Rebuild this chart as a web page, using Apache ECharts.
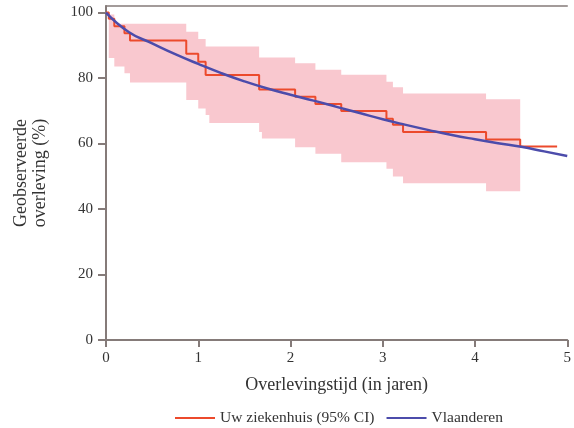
<!DOCTYPE html>
<html>
<head>
<meta charset="utf-8">
<script src="https://cdn.jsdelivr.net/npm/echarts@6/dist/echarts.min.js"></script>
<style>
  html, body { margin: 0; padding: 0; background: #fff; }
  #chart { width: 574px; height: 428px; }
</style>
</head>
<body>
<div id="chart"></div>
<script>
// Kaplan-Meier curve of the hospital (step, value holds until next time)
var kmTimes = [0, 0.03, 0.09, 0.20, 0.26, 0.87, 1.00, 1.08, 1.66, 2.05, 2.27, 2.55, 3.04, 3.11, 3.22, 4.12, 4.49, 4.89];
var kmSurv  = [100, 98.1, 95.8, 93.7, 91.5, 87.4, 85.0, 80.9, 76.5, 74.3, 72.1, 69.9, 67.6, 65.7, 63.5, 61.2, 59.1, 59.1];

// 95% CI band (last time = end of band)
var ciTimes = [0.03, 0.09, 0.20, 0.26, 0.87, 1.00, 1.08, 1.12, 1.66, 1.69, 2.05, 2.27, 2.55, 3.04, 3.11, 3.22, 4.12, 4.49];
var ciLower = [86.1, 83.5, 81.5, 78.6, 73.3, 70.7, 68.7, 66.3, 63.5, 61.5, 58.9, 56.9, 54.3, 52.3, 49.9, 47.9, 45.4];
var ciUpper = [99.4, 96.6, 96.6, 96.6, 94.1, 91.9, 89.6, 89.6, 86.3, 86.3, 84.5, 82.5, 81.0, 78.9, 77.2, 75.3, 73.5];

// Vlaanderen reference curve
var vlTimes = [0, 0.25, 0.5, 0.75, 1, 1.25, 1.5, 1.75, 2, 2.25, 2.5, 2.75, 3, 3.25, 3.5, 3.75, 4, 4.25, 4.5, 4.75, 5];
var vlSurv  = [100, 94.0, 90.6, 87.3, 84.3, 81.5, 79.0, 76.8, 74.9, 73.1, 71.2, 69.3, 67.4, 65.7, 64.1, 62.6, 61.3, 60.1, 59.0, 57.6, 56.2];

var yTicks = [0, 20, 40, 60, 80, 100];
var xTicks = [0, 1, 2, 3, 4, 5];

var serif = 'Liberation Serif';
var axisCol = '#857b79';
var red = '#ec4a2c';
var blue = '#4c4cab';
var pink = '#f9c8cf';

function pairs(xs, ys) {
    return xs.map(function (x, i) { return [x, ys[i]]; });
}

// one row per CI interval: [start, end, lower, upper]
var ciRows = ciLower.map(function (lo, i) {
    return [ciTimes[i], ciTimes[i + 1], lo, ciUpper[i]];
});

var chart = echarts.init(document.getElementById('chart'));

var option = {
    animation: false,
    grid: { left: 106, right: 2, top: 6, bottom: 88 },
    legend: {
        left: 170,
        top: 405,
        icon: 'rect',
        itemWidth: 40,
        itemHeight: 2,
        itemGap: 12,
        textStyle: { fontFamily: serif, fontSize: 15.5, color: '#333' },
        data: ['Uw ziekenhuis (95% CI)', 'Vlaanderen']
    },
    xAxis: [{
        type: 'value',
        min: 0, max: 5, interval: 1,
        name: 'Overlevingstijd (in jaren)',
        nameLocation: 'middle',
        nameGap: 36,
        nameTextStyle: { fontFamily: serif, fontSize: 18, color: '#333' },
        axisLine: { lineStyle: { color: axisCol, width: 2 } },
        axisTick: { length: 7, lineStyle: { color: axisCol, width: 2 }, customValues: xTicks },
        axisLabel: { fontFamily: serif, fontSize: 15, color: '#333', margin: 11, customValues: xTicks },
        splitLine: { show: false }
    }, {
        type: 'value',
        position: 'top',
        min: 0, max: 5,
        axisLine: { show: true, lineStyle: { color: axisCol, width: 1.5 } },
        axisTick: { show: false },
        axisLabel: { show: false },
        splitLine: { show: false }
    }],
    yAxis: {
        type: 'value',
        min: 0, max: 102,
        name: 'Geobserveerde\noverleving (%)',
        nameLocation: 'middle',
        nameRotate: 90,
        nameGap: 56,
        nameTextStyle: { fontFamily: serif, fontSize: 18, color: '#333', lineHeight: 19 },
        axisLine: { show: true, lineStyle: { color: axisCol, width: 2 } },
        axisTick: { show: true, length: 8, lineStyle: { color: axisCol, width: 2 }, customValues: yTicks },
        axisLabel: { fontFamily: serif, fontSize: 15, color: '#333', margin: 13, customValues: yTicks },
        splitLine: { show: false }
    },
    series: [
        {
            name: 'ci',
            type: 'custom',
            silent: true,
            z: 1,
            data: ciRows,
            renderItem: function (params, api) {
                if (params.dataIndex !== 0) return;
                var top = [], bottom = [];
                ciRows.forEach(function (r) {
                    top.push(api.coord([r[0], r[3]]), api.coord([r[1], r[3]]));
                    bottom.unshift(api.coord([r[1], r[2]]), api.coord([r[0], r[2]]));
                });
                return {
                    type: 'polygon',
                    shape: { points: top.concat(bottom) },
                    style: { fill: pink }
                };
            }
        },
        {
            name: 'Uw ziekenhuis (95% CI)',
            type: 'line',
            step: 'end',
            showSymbol: false,
            z: 3,
            color: red,
            lineStyle: { color: red, width: 2 },
            data: pairs(kmTimes, kmSurv)
        },
        {
            name: 'Vlaanderen',
            type: 'line',
            smooth: true,
            showSymbol: false,
            z: 4,
            color: blue,
            lineStyle: { color: blue, width: 2.5 },
            data: pairs(vlTimes, vlSurv)
        }
    ]
};

option && chart.setOption(option);
</script>
</body>
</html>
